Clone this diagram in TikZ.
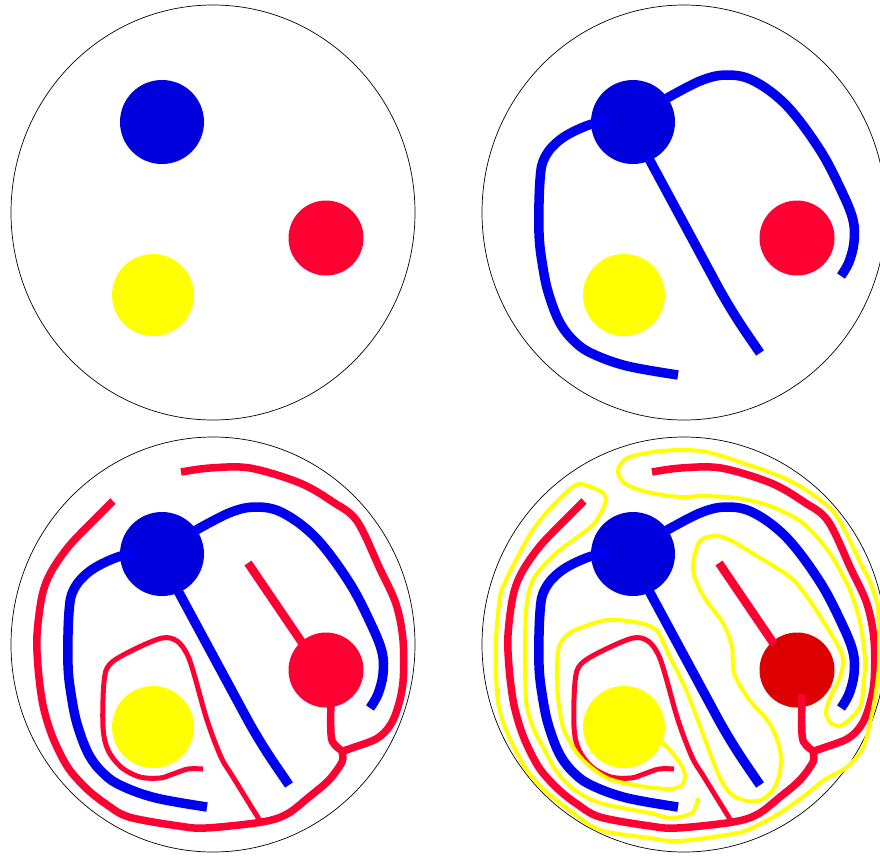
\documentclass[tikz,border=0pt]{standalone}
\usepackage{tikz}

\definecolor{diskblue}{RGB}{0,0,221}
\definecolor{lineblue}{RGB}{0,0,240}
\definecolor{linered}{RGB}{255,0,51}
\definecolor{diskdark}{RGB}{221,0,0}
\definecolor{knotyellow}{RGB}{255,255,0}

% outline and the three disks, #1 = colour of the red disk
\newcommand{\drawbase}[1]{%
  \draw[rim] (213,212.5) ellipse [x radius=202, y radius=207.5];
  \fill[diskblue] (162,122) circle [radius=42];
  \fill[#1] (326,238) circle [radius=37.5];
  \fill[knotyellow] (153,295) circle [radius=41];
}

% the three blue strands
\newcommand{\drawblue}{%
  \draw[blueline] plot[smooth, tension=0.6] coordinates {(138,120) (115,126) (90,139) (74,157) (69,180) (68,233) (72,268) (78,295) (89,323) (104,342) (122,354) (156,366) (207,375)};
  \draw[blueline] plot[smooth, tension=0.6] coordinates {(191,101) (229,81) (256,75) (283,81) (316,106) (349,150) (371,192) (382,220) (383,242) (378,262) (370,276)};
  \draw[blueline, rounded corners=25pt] (177,157) -- (259,309) -- (289,353);
}

% the red strands
\newcommand{\drawred}{%
  % outer strand, left end round the bottom and up the right side
  \draw[redline] plot[smooth, tension=0.55] coordinates {(113,69) (92,90) (69,114) (51,140) (42,164) (37,203) (38,235) (42,268) (48,292) (56,313) (69,337) (87,357) (106,372) (129,385) (179,394) (206,396) (262,390) (287,382) (309,365) (329,348) (342,330) (343,320) (352,316) (376,307) (389,295) (397,278) (403,250) (403,208) (396,172) (380,137) (357,89) (333,70) (300,51) (250,36) (210,36) (181,40)};
  % stem from the red disk
  \draw[redline] plot[smooth, tension=0.6] coordinates {(331,262) (331,302) (335,313) (344,320)};
  % stick into the red disk
  \draw[redline, line width=8.5pt] (248,131) -- (303,212);
  % thin loop round the yellow disk
  \draw[thinred] plot[smooth, tension=0.55] coordinates {(203,337) (188,337) (173,342) (160,346) (140,345) (121,335) (108,318) (103,295) (104,250) (110,232) (133,218) (162,206) (177,209) (187,222) (194,242) (207,288) (221,325) (233,345) (262,392)};
}

\begin{document}
\begin{tikzpicture}[x=1pt, y=-1pt,
  rim/.style={black, line width=0.7pt},
  blueline/.style={draw=lineblue, line width=9.5pt},
  redline/.style={draw=linered, line width=7.5pt},
  thinred/.style={draw=linered, line width=5pt},
  yellowline/.style={draw=knotyellow, line width=4pt}]

  \useasboundingbox (0,0) rectangle (880,855);

  % Panel 1: disks only
  \begin{scope}
    \drawbase{linered}
  \end{scope}

  % Panel 2: blue strands
  \begin{scope}[shift={(471,0)}]
    \drawbase{linered}
    \drawblue
  \end{scope}

  % Panel 3: blue and red strands
  \begin{scope}[shift={(0,432)}]
    \drawbase{linered}
    \drawblue
    \drawred
  \end{scope}

  % Panel 4: blue, red and yellow strands
  \begin{scope}[shift={(471,432)}]
    \drawbase{diskdark}
    \drawblue
    \drawred
    % yellow strand, from the yellow disk to its free end
    \draw[yellowline] plot[smooth, tension=0.5] coordinates {
      (186,305) (197,316) (209,331) (214,343) (211,353) (199,357) (169,354) (136,346)
      (110,326) (93,298) (87,265) (86,232) (89,212) (102,199) (136,188) (169,191) (186,199)
      (199,225) (216,260) (232,302) (248,344) (260,362) (276,369) (290,368) (302,358)
      (309,340) (309,318) (299,292) (277,266) (263,241) (261,215) (252,191) (233,165)
      (222,138) (229,109) (252,105) (286,124) (319,145) (337,166) (362,205) (372,226)
      (369,245) (358,268) (355,282) (360,291) (368,294) (377,289) (389,275) (392,258)
      (394,228) (389,190) (378,156) (358,120) (332,91) (299,74) (266,66) (232,64) (209,65)
      (176,60) (153,51) (147,38) (156,26) (182,20) (209,18) (236,20) (269,30) (306,43)
      (332,56) (359,76) (373,97) (392,136) (400,152) (407,178) (408,231) (404,266)
      (399,290) (392,316) (376,335) (353,348) (342,357) (329,367) (309,381) (287,393)
      (266,401) (209,409) (179,406) (129,398) (98,378) (72,357) (55,337) (42,313)
      (32,290) (26,262) (25,208) (29,165) (35,148) (58,104) (76,80)
      (99,57) (110,52) (129,59) (135,66) (132,77) (122,93) (109,103) (83,123) (63,146)
      (56,170) (54,208) (55,268) (62,295) (71,313) (84,337) (101,356) (129,371)
      (179,381) (199,386) (221,381) (227,366)};
  \end{scope}

\end{tikzpicture}
\end{document}
